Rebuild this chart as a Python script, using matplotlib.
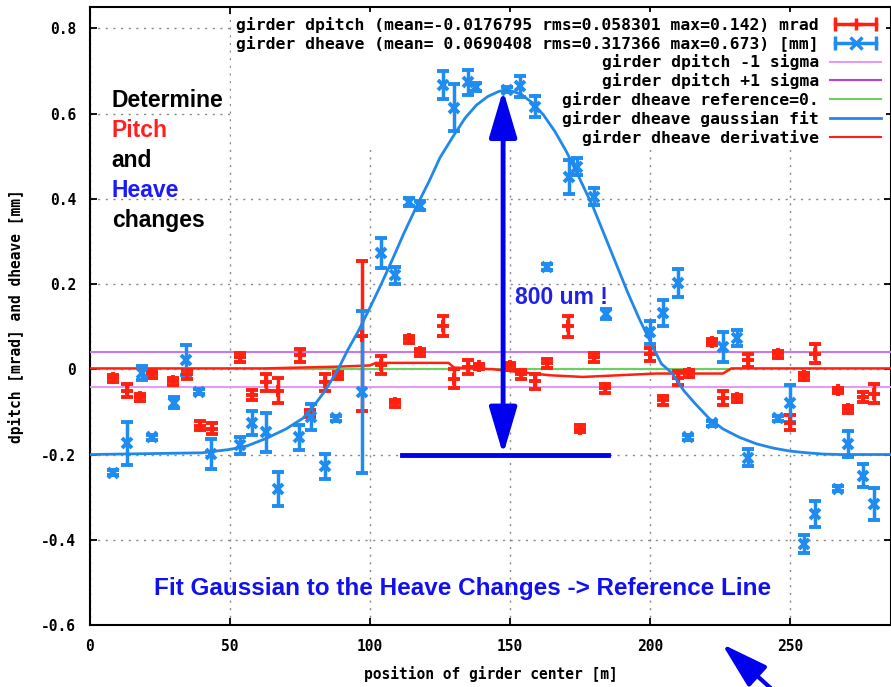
import matplotlib
matplotlib.use('Agg')
import matplotlib.pyplot as plt
from matplotlib.lines import Line2D
from matplotlib.legend_handler import HandlerLine2D

# girder dpitch [mrad]
pitch_x = [8.3, 13.2, 17.9, 22.0, 29.6, 34.5, 39.3, 43.6, 53.6, 58.0, 63.0, 67.0, 75.0,
           78.6, 84.0, 88.6, 97.0, 104.0, 109.0, 114.0, 118.0, 126.0, 130.0, 135.0,
           139.0, 150.0, 154.0, 159.0, 163.0, 170.7, 175.0, 180.0, 184.0, 200.0,
           204.6, 210.0, 214.0, 222.0, 226.0, 231.0, 235.0, 245.7, 249.8, 255.0,
           259.0, 267.0, 270.7, 276.0, 280.0]
pitch_y = [-0.021, -0.050, -0.066, -0.012, -0.028, -0.012, -0.132, -0.139, 0.028, -0.061,
           -0.030, -0.050, 0.033, -0.104, -0.031, -0.014, 0.078, 0.010, -0.080, 0.070,
           0.040, 0.101, -0.022, 0.005, 0.007, 0.007, -0.012, -0.028, 0.014, 0.101,
           -0.139, 0.028, -0.045, 0.035, -0.073, -0.021, -0.009, 0.064, -0.068, -0.068,
           0.021, 0.035, -0.125, -0.016, 0.037, -0.049, -0.094, -0.065, -0.057]
pitch_err = [0.008, 0.016, 0.008, 0.008, 0.008, 0.010, 0.010, 0.012, 0.010, 0.012,
             0.020, 0.030, 0.015, 0.008, 0.020, 0.008, 0.177, 0.020, 0.008, 0.008,
             0.008, 0.024, 0.022, 0.016, 0.006, 0.008, 0.010, 0.018, 0.010, 0.025,
             0.008, 0.010, 0.010, 0.015, 0.010, 0.016, 0.008, 0.008, 0.016, 0.008,
             0.015, 0.008, 0.018, 0.008, 0.023, 0.006, 0.008, 0.012, 0.022]

# girder dheave [mm]
heave_x = [8.3, 13.2, 18.6, 22.0, 30.0, 34.3, 39.0, 43.2, 53.6, 58.0, 63.0, 67.0, 74.6,
           79.0, 84.0, 88.0, 97.0, 104.0, 109.0, 114.0, 118.0, 126.0, 130.0, 135.0,
           138.0, 149.0, 153.6, 159.0, 163.0, 171.0, 174.0, 180.0, 184.3, 200.0,
           204.6, 210.0, 213.6, 222.0, 226.0, 231.0, 235.0, 245.7, 249.8, 255.0,
           259.0, 267.0, 270.7, 276.0, 280.0]
heave_y = [-0.243, -0.174, -0.009, -0.160, -0.078, 0.021, -0.053, -0.198, -0.178, -0.127,
           -0.148, -0.280, -0.160, -0.112, -0.228, -0.115, -0.054, 0.273, 0.221, 0.393,
           0.384, 0.668, 0.614, 0.673, 0.662, 0.656, 0.664, 0.616, 0.240, 0.452,
           0.475, 0.405, 0.130, 0.087, 0.132, 0.202, -0.160, -0.127, 0.052, 0.073,
           -0.207, -0.115, -0.080, -0.410, -0.340, -0.280, -0.175, -0.250, -0.316]
heave_err = [0.006, 0.050, 0.016, 0.006, 0.012, 0.035, 0.006, 0.035, 0.020, 0.028,
             0.045, 0.040, 0.030, 0.030, 0.030, 0.006, 0.190, 0.035, 0.020, 0.010,
             0.010, 0.033, 0.055, 0.030, 0.010, 0.006, 0.024, 0.025, 0.006, 0.040,
             0.020, 0.020, 0.012, 0.027, 0.030, 0.033, 0.006, 0.006, 0.035, 0.018,
             0.020, 0.006, 0.043, 0.020, 0.030, 0.006, 0.030, 0.027, 0.037]

# gaussian fit to dheave
fit_x = [0, 40, 50, 56, 63, 70, 76, 80, 84, 88.6, 92, 96, 100, 104, 108, 112, 116.8,
         121, 125, 130, 134, 138, 142, 146, 148, 150, 154, 158, 162, 166, 170, 175,
         179.6, 184, 188, 192, 196, 201, 204, 207.8, 212, 216, 221, 226, 232, 238,
         244, 250, 256, 262, 268, 286]
fit_y = [-0.2, -0.196, -0.188, -0.18, -0.162, -0.14, -0.115, -0.085, -0.05, 0.0, 0.045,
         0.092, 0.145, 0.2, 0.258, 0.318, 0.385, 0.44, 0.497, 0.55, 0.59, 0.62, 0.64,
         0.652, 0.655, 0.654, 0.645, 0.625, 0.596, 0.558, 0.512, 0.445, 0.381, 0.31,
         0.245, 0.18, 0.12, 0.052, 0.013, -0.009, -0.05, -0.08, -0.115, -0.14, -0.16,
         -0.175, -0.185, -0.192, -0.196, -0.199, -0.2, -0.2]

# derivative of the fit
deriv_x = [0, 62, 88, 100, 102, 128, 130, 144, 164, 176, 189, 202, 226, 229, 286]
deriv_y = [0.002, 0.002, 0.006, 0.009, 0.015, 0.015, 0.004, 0.0, -0.014, -0.018,
           -0.014, -0.010, -0.010, 0.002, 0.002]

ref_x = [62, 228]
ref_y = [0.0, 0.0]
sigma_minus = -0.042
sigma_plus = 0.040

# peak and baseline used for the arrow
peak_x = 147.5
peak_y = 0.655
base_y = -0.2
base_x = [111.4, 185.0]

red = '#ff2010'
blue = '#1e8cf0'
dblue = '#0000ee'
mono = 'DejaVu Sans Mono'

fig = plt.figure(figsize=(8.91, 6.87), dpi=100)
ax = fig.add_axes([90/891, 62/687, 801/891, 618/687])
ax.set_axisbelow(True)

ax.errorbar(pitch_x, pitch_y, yerr=pitch_err, fmt='+', color=red, ms=8, mew=2.8,
            elinewidth=2.5, capsize=4, capthick=2.8, zorder=4)
ax.errorbar(heave_x, heave_y, yerr=heave_err, fmt='x', color=blue, ms=7.5, mew=2.8,
            elinewidth=2.5, capsize=4, capthick=2.8, zorder=4)
ax.axhline(sigma_minus, color='#e49cf2', lw=1.5, zorder=3)
ax.axhline(sigma_plus, color='#c877f0', lw=1.5, zorder=3)
ax.plot(ref_x, ref_y, color='#6cd060', lw=1.5, zorder=3)
ax.plot(fit_x, fit_y, color='#2088ea', lw=2, zorder=5)
ax.plot(deriv_x, deriv_y, color=red, lw=1.8, zorder=3)

# 800 um arrow and baseline
ax.annotate('', xy=(peak_x, peak_y), xytext=(peak_x, base_y),
            arrowprops=dict(arrowstyle='<|-|>,head_length=1.15,head_width=0.34',
                            mutation_scale=25, color=dblue, lw=3.5,
                            shrinkA=0, shrinkB=0), zorder=6)
ax.plot(base_x, [base_y, base_y], color=dblue, lw=3.5, zorder=6)
ax.text(151.8, 0.169, '800 um !', color='#2020e8', fontsize=16.5, fontweight='bold',
        family='Liberation Sans', va='center', ha='left', zorder=7)

ax.text(133, -0.515, 'Fit Gaussian to the Heave Changes -> Reference Line',
        color='#1010f0', fontsize=17.5, fontweight='bold',
        family='Liberation Sans', ha='center', va='center')

words = ['Determine', 'Pitch', 'and', 'Heave', 'changes']
word_colors = ['black', '#ff2020', 'black', '#1a1aff', 'black']
for i, (w, c) in enumerate(zip(words, word_colors)):
    ax.text(0.027, 0.848 - i * 0.0485, w, transform=ax.transAxes, color=c,
            fontsize=16.5, fontweight='bold', family='Liberation Sans', va='center')

# outside arrow at the bottom
ax.annotate('', xy=(722, 43), xycoords='figure pixels', xytext=(776, -6),
            textcoords='figure pixels', annotation_clip=False,
            arrowprops=dict(arrowstyle='-|>,head_length=1.15,head_width=0.34',
                            mutation_scale=25, color=dblue, lw=3, shrinkA=0, shrinkB=0))

ax.set_xlim(0, 286)
ax.set_ylim(-0.6, 0.85)
xticks = [0, 50, 100, 150, 200, 250]
yticks = [-0.6, -0.4, -0.2, 0, 0.2, 0.4, 0.6, 0.8]
ytick_labels = ['-0.6', '-0.4', '-0.2', '0', '0.2', '0.4', '0.6', '0.8']
ax.set_xticks(xticks)
ax.set_xticklabels([str(t) for t in xticks], family=mono, fontweight='bold', fontsize=10.5)
ax.set_yticks(yticks)
ax.set_yticklabels(ytick_labels, family=mono, fontweight='bold', fontsize=10.5)
ax.tick_params(direction='in', length=5, width=1.3, top=True, right=True, pad=10)
ax.grid(True, color='#888888', linestyle=(0, (1.5, 4)), lw=1)
for s in ax.spines.values():
    s.set_linewidth(1.5)

ax.set_xlabel('position of girder center [m]', family=mono, fontweight='bold',
              fontsize=10.5, labelpad=9)
ax.set_ylabel('dpitch [mrad] and dheave [mm]', family=mono, fontweight='bold',
              fontsize=10.5, labelpad=12)

# legend, gnuplot style (labels right aligned, samples on the right)
r_caps = Line2D([], [], color=red, lw=2.5, marker='|', ms=10, mew=2.5)
r_mid = Line2D([], [], color=red, lw=0, marker='+', ms=9, mew=2.5)
b_caps = Line2D([], [], color=blue, lw=2.5, marker='|', ms=10, mew=2.5)
b_mid = Line2D([], [], color=blue, lw=0, marker='x', ms=8, mew=2.5)
handles = [(r_caps, r_mid), (b_caps, b_mid),
           Line2D([], [], color='#e49cf2', lw=1.5),
           Line2D([], [], color='#b040f0', lw=1.5),
           Line2D([], [], color='#6cd060', lw=1.5),
           Line2D([], [], color='#2088ea', lw=2),
           Line2D([], [], color=red, lw=1.5)]
labels = ['girder dpitch (mean=-0.0176795 rms=0.058301 max=0.142) mrad',
          'girder dheave (mean= 0.0690408 rms=0.317366 max=0.673) [mm]',
          'girder dpitch -1 sigma',
          'girder dpitch +1 sigma',
          'girder dheave reference=0.',
          'girder dheave gaussian fit',
          'girder dheave derivative']
hmap = {r_caps: HandlerLine2D(numpoints=2), r_mid: HandlerLine2D(numpoints=1),
        b_caps: HandlerLine2D(numpoints=2), b_mid: HandlerLine2D(numpoints=1)}
leg = ax.legend(handles, labels, loc='upper right', markerfirst=False, handler_map=hmap,
                prop=dict(family=mono, weight='bold', size=11.8), handlelength=3.1,
                handletextpad=0.7, labelspacing=0.17, borderpad=0.3, borderaxespad=0.3,
                frameon=True, fancybox=False, facecolor='white', edgecolor='none',
                framealpha=1.0)
# legend box sits above the grid but under the data
leg.set_zorder(1)

fig.savefig('out.png', dpi=100)
